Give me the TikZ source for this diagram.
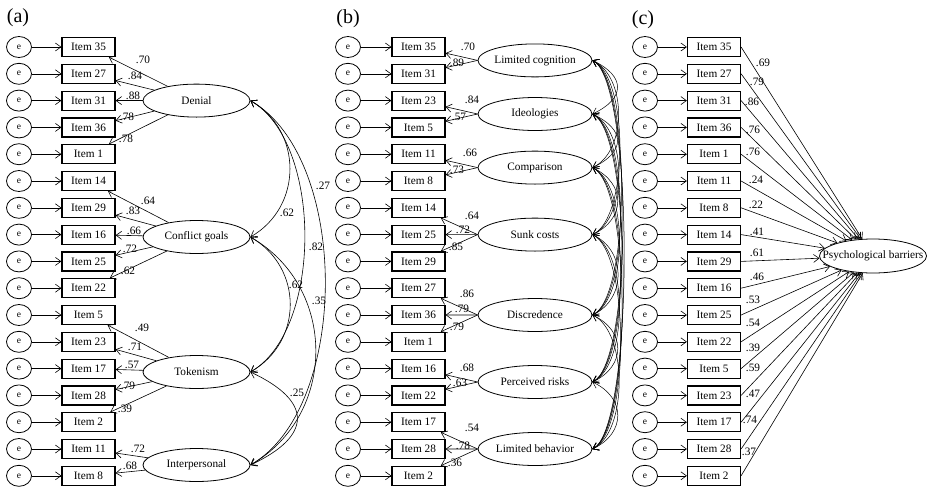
\documentclass[tikz,border=0pt]{standalone}
\usepackage{fontspec}
\setmainfont{Liberation Serif}
\usepackage{tikz}
\usetikzlibrary{positioning,shapes.geometric,arrows.meta}
\tikzset{error node/.style={ellipse,draw,line width=0.8pt,minimum width=25pt,minimum height=21pt,inner sep=0pt,font=\fontsize{9.5}{10}\selectfont},
  item node/.style={rectangle,draw,line width=1.2pt,minimum width=53pt,minimum height=19pt,inner sep=0pt},
  latent node/.style={ellipse,draw,line width=0.8pt,minimum width=107pt,minimum height=33pt,inner sep=0pt},
  coef/.style={inner sep=1pt},
  path arrow/.style={->,line width=0.6pt},
  >={Straight Barb[length=5.5pt,width=8pt]}}

\begin{document}
\begin{tikzpicture}[x=1pt,y=-1pt,font=\fontsize{11.3}{13}\selectfont]
\useasboundingbox (0,0) rectangle (929,488);

% (a) four factors
\node[font=\fontsize{20}{22}\selectfont] (pa) at (18,18) {(a)};
\foreach \it [count=\i from 0] in {35,27,31,36,1,14,29,16,25,22,5,23,17,28,2,11,8}{
  \node[error node] (ae\i) at (19,{47+26.8*\i}) {e};
  \node[item node] (a\it) at (88.5,{47+26.8*\i}) {Item \it};
  \draw[path arrow] (ae\i) -- (a\it);
}
\node[latent node,label=center:Denial] (den) at (196.5,100.6) {};
\node[latent node,label=center:Conflict goals] (con) at (196.5,237) {};
\node[latent node,label=center:Tokenism] (tok) at (196.5,372) {};
\node[latent node,label=center:Interpersonal] (int) at (196.5,465) {};

\path[path arrow]
  (den) edge (a35) (den) edge (a27) (den) edge (a31) (den) edge (a36) (den) edge (a1)
  (con) edge (a14) (con) edge (a29) (con) edge (a16) (con) edge (a25) (con) edge (a22)
  (tok) edge (a5) (tok) edge (a23) (tok) edge (a17) (tok) edge (a28) (tok) edge (a2)
  (int) edge (a11) (int) edge (a8);
% loadings of (a)
\foreach \v/\x/\y [count=\n] in {.70/143/60,.84/135/76,.88/133/96,.78/127/117,.78/126/139,
    .64/148/201,.83/133/211,.66/134/231,.72/130/249,.62/128/271,
    .49/142/328,.71/135/347,.57/132/365,.79/128/386,.39/125/409,
    .72/138/449,.68/130/466}
  \node[coef] (ka\n) at (\x,\y) {\v};

\path[<->,line width=0.6pt]
  (den.east) edge[out=-30,in=30,looseness=1.14] (con.east)
  (den.east) edge[out=-30,in=30,looseness=0.79] (tok.east)
  (den.east) edge[out=-30,in=30,looseness=0.81] (int.east)
  (con.east) edge[out=-30,in=30,looseness=1.16] (tok.east)
  (con.east) edge[out=-30,in=30,looseness=1.13] (int.east)
  (tok.east) edge[out=-25,in=25,looseness=1.9] (int.east);
\node[coef] (r1) at (287,213) {.62};
\node[coef] (r2) at (316,247) {.82};
\node[coef] (r3) at (323,186) {.27};
\node[coef] (r4) at (296,285) {.62};
\node[coef] (r5) at (319,301) {.35};
\node[coef] (r6) at (297,393) {.25};

% (b) seven factors
\node[font=\fontsize{20}{22}\selectfont] (pb) at (348,19) {(b)};
\foreach \it [count=\i from 0] in {35,31,23,5,11,8,14,25,29,27,36,1,16,22,17,28,2}{
  \node[error node] (be\i) at (348,{47+26.8*\i}) {e};
  \node[item node] (b\it) at (418.5,{47+26.8*\i}) {Item \it};
  \draw[path arrow] (be\i) -- (b\it);
}
\def\latys{{60.4,114,167.6,234.6,315,382,449}}
\foreach \name [count=\i] in {Limited cognition,Ideologies,Comparison,Sunk costs,Discredence,Perceived risks,Limited behavior}{
  \pgfmathsetmacro{\y}{\latys[\i-1]}
  \node[latent node,minimum width=114pt,label=center:\name] (L\i) at (535,\y) {};
}

\path[path arrow]
  (L1.west) edge (b35) (L1.west) edge (b31)
  (L2.west) edge (b23) (L2.west) edge (b5)
  (L3.west) edge (b11) (L3.west) edge (b8)
  (L4.west) edge (b14) (L4.west) edge (b25) (L4.west) edge (b29)
  (L5.west) edge (b27) (L5.west) edge (b36) (L5.west) edge (b1)
  (L6.west) edge (b16) (L6.west) edge (b22)
  (L7.west) edge (b17) (L7.west) edge (b28) (L7.west) edge (b2);
% loadings of (b)
\foreach \v/\x/\y [count=\n] in {.70/468/47,.89/457/63,.84/472/100,.57/459/117,.66/470/153,.73/457/170,
    .64/472/216,.72/463/230,.85/456/247,.86/467/294,.79/462/309,.79/457/327,
    .68/467/368,.63/460/383,.54/472/428,.78/463/446,.36/455/463}
  \node[coef] (kb\n) at (\x,\y) {\v};

\foreach \i in {1,...,6}{
  \pgfmathtruncatemacro{\k}{\i+1}
  \foreach \j in {\k,...,7}{
    \pgfmathsetmacro{\d}{\latys[\j-1]-\latys[\i-1]}
    \pgfmathsetmacro{\lo}{(24+0.02*\d)/(0.266*\d)}
    \draw[<->,line width=0.5pt] (L\i.east) to[out=-25,in=25,looseness=\lo] (L\j.east);
  }
}

% (c) one factor
\node[font=\fontsize{20}{22}\selectfont] (pc) at (643,20) {(c)};
\node[latent node,minimum height=34pt,label=center:Psychological barriers] (psy) at (873,256) {};
\foreach \it/\v/\x/\y [count=\i from 0] in {35/.69/763/63,27/.79/757/82,31/.86/752/102,36/.76/753/130,
    1/.76/753/152,11/.24/756/180,8/.22/756/205,14/.41/757/232,29/.61/757/253,16/.46/757/277,
    25/.53/753/300,22/.54/753/323,5/.39/753/348,23/.59/753/368,17/.47/753/394,28/.74/750/420,2/.37/749/452}{
  \node[error node] (ce\i) at (645,{47+26.8*\i}) {e};
  \node[item node] (c\it) at (714,{47+26.8*\i}) {Item \it};
  \draw[path arrow] (ce\i) -- (c\it);
  \draw[path arrow] (c\it.east) -- (psy);
  \node[coef] (kc\i) at (\x,\y) {\v};
}
\end{tikzpicture}
\end{document}
